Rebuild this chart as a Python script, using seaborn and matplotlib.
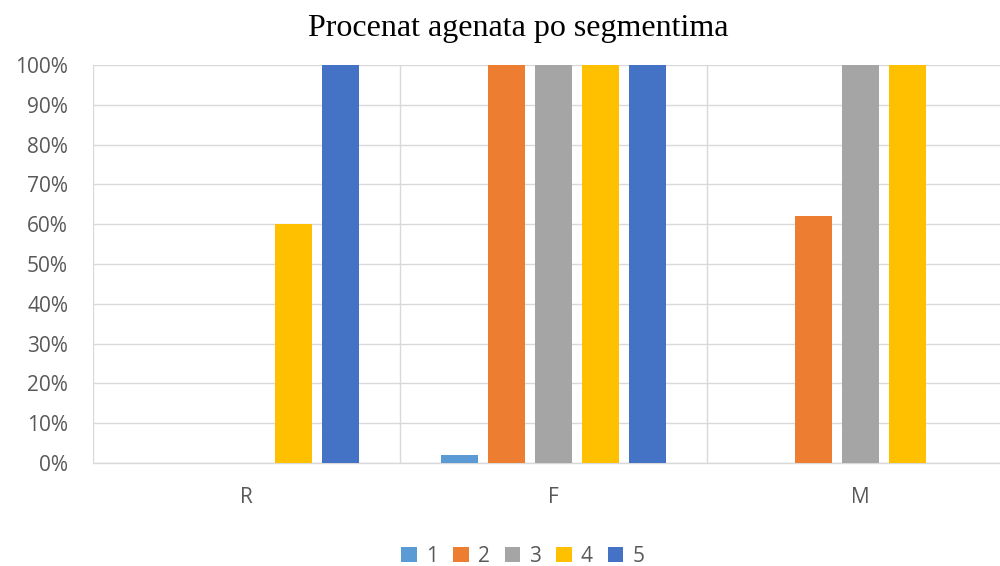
import matplotlib
matplotlib.use("Agg")
import matplotlib.pyplot as plt
import seaborn as sns
import pandas as pd
from matplotlib.ticker import PercentFormatter, FixedLocator
from matplotlib.patches import Patch

categories = ["R", "F", "M"]
series = ["1", "2", "3", "4", "5"]
values_1 = [0.00, 0.02, 0.00]
values_2 = [0.00, 1.00, 0.62]
values_3 = [0.00, 1.00, 1.00]
values_4 = [0.60, 1.00, 1.00]
values_5 = [1.00, 1.00, 0.00]
colors = ["#5B9BD5", "#ED7D31", "#A5A5A5", "#FFC000", "#4472C4"]
title = "Procenat agenata po segmentima"

rows = []
for s, vals in zip(series, [values_1, values_2, values_3, values_4, values_5]):
    for c, v in zip(categories, vals):
        rows.append({"segment": c, "grupa": s, "procenat": v})
df = pd.DataFrame(rows)

sns.set_theme(style="white")
plt.rcParams["font.family"] = ["Open Sans", "DejaVu Sans"]

fig = plt.figure(figsize=(10, 5.66), dpi=100)
ax = fig.add_axes([0.093, 0.182, 0.921, 0.703])

sns.barplot(data=df, x="segment", y="procenat", hue="grupa",
            order=categories, hue_order=series, palette=colors,
            saturation=1, width=0.765, gap=0.21, linewidth=0,
            errorbar=None, legend=False, ax=ax, zorder=3)

ax.set_xlim(-0.5, 2.5)
ax.set_ylim(0, 1)
ax.yaxis.set_major_locator(FixedLocator([i / 10 for i in range(11)]))
ax.yaxis.set_major_formatter(PercentFormatter(1.0, decimals=0))
ax.xaxis.set_minor_locator(FixedLocator([-0.5, 0.5, 1.5, 2.5]))
ax.grid(axis="y", which="major", color="#D9D9D9", linewidth=1.0, zorder=0)
ax.grid(axis="x", which="minor", color="#D9D9D9", linewidth=1.0, zorder=0)
ax.grid(axis="x", which="major", visible=False)
for side in ["top", "right", "left"]:
    ax.spines[side].set_visible(False)
ax.spines["bottom"].set_color("#D9D9D9")
ax.spines["bottom"].set_linewidth(1.0)
ax.tick_params(axis="both", which="both", length=0, colors="#595959", labelsize=15)
ax.tick_params(axis="y", pad=18)
ax.tick_params(axis="x", pad=17)
ax.set_xlabel("")
ax.set_ylabel("")

fig.text(0.518, 0.950, title, ha="center", va="center",
         fontsize=23, family=["Liberation Serif", "DejaVu Serif"], color="black")

handles = [Patch(facecolor=c, edgecolor="none") for c in colors]
fig.legend(handles, series, loc="lower center", bbox_to_anchor=(0.523, -0.027),
           ncol=5, frameon=False, fontsize=15, handlelength=0.75,
           handleheight=0.75, handletextpad=0.45, columnspacing=0.7,
           labelcolor="#595959", borderpad=0.2)

fig.savefig("out.png", dpi=100)
